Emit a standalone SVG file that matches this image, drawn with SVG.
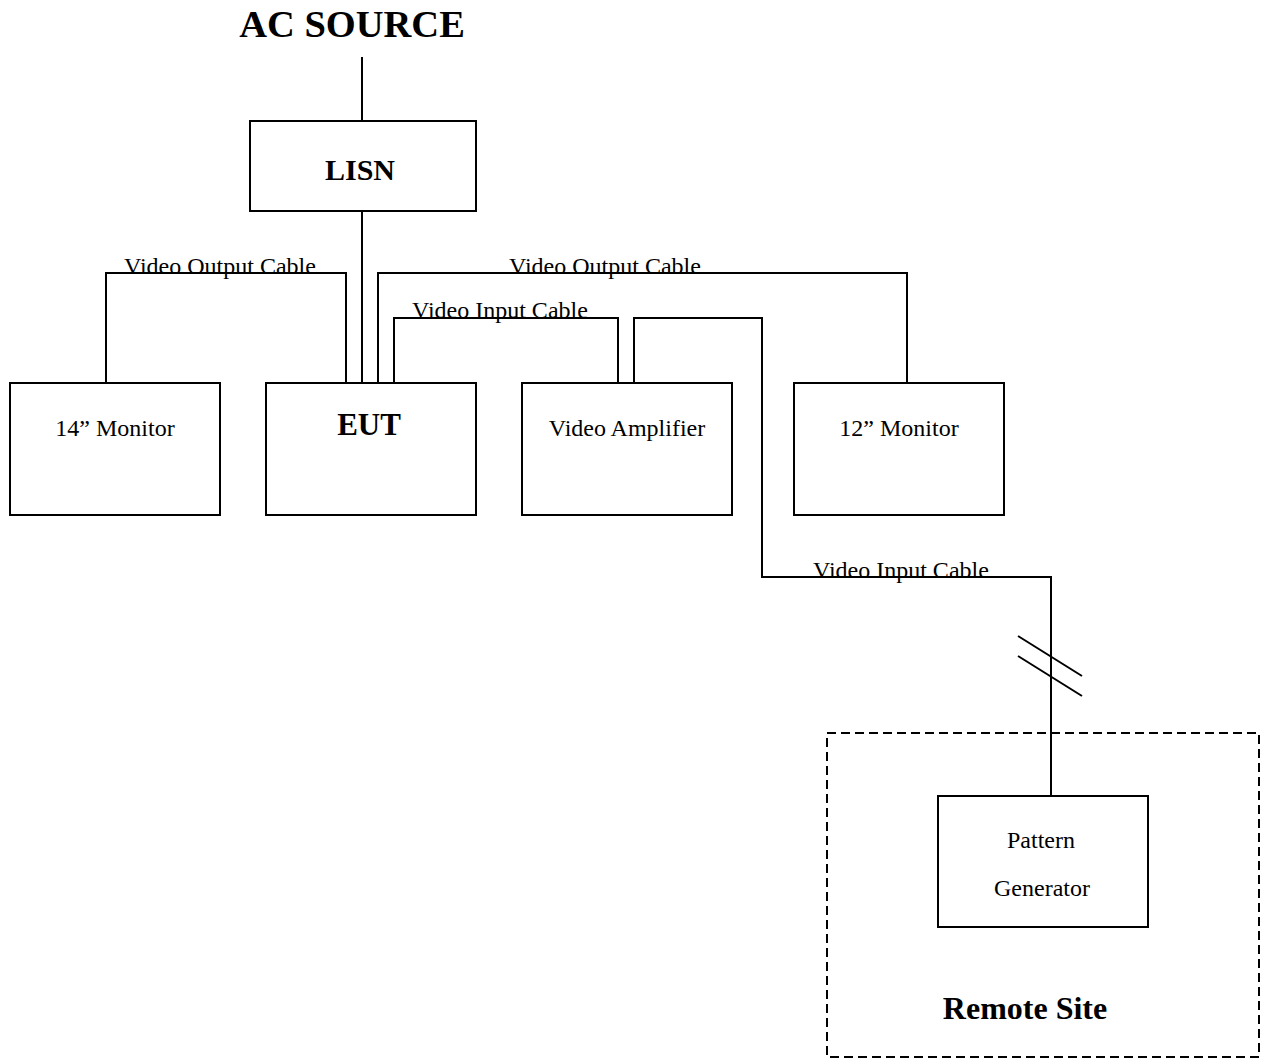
<svg xmlns="http://www.w3.org/2000/svg" width="1268" height="1059" viewBox="0 0 1268 1059">
<style>
.box{fill:#fff;stroke:#000;stroke-width:2}
.w{fill:none;stroke:#000;stroke-width:2}
.t{font-family:"Liberation Serif","Times New Roman",serif;fill:#000}
.b{font-weight:bold}
.lbl{font-size:24px}
</style>
<rect width="1268" height="1059" fill="#fff"/>
<g id="connectors">
<path class="w" d="M362 57V121"/>
<path class="w" d="M362 211V383"/>
<path class="w" d="M106 383V273H346V383"/>
<path class="w" d="M378 383V273H907V383"/>
<path class="w" d="M394 383V318H618V383"/>
<path class="w" d="M634 383V318H762V577H1051V796"/>
<path class="w" d="M1018 636L1082 676M1018 656L1082 696"/>
</g>
<g id="remote-site">
<rect x="827" y="733" width="432" height="324" fill="none" stroke="#000" stroke-width="2" stroke-dasharray="9,5"/>
<text class="t b" x="1025" y="1019" font-size="32" text-anchor="middle">Remote Site</text>
</g>
<g id="ac-source"><text class="t b" x="352" y="37" font-size="38.5" text-anchor="middle">AC SOURCE</text></g>
<g id="lisn"><rect class="box" x="250" y="121" width="226" height="90"/><text class="t b" x="360" y="180" font-size="30" text-anchor="middle">LISN</text></g>
<g id="monitor14"><rect class="box" x="10" y="383" width="210" height="132"/><text class="t lbl" x="115" y="436" text-anchor="middle">14” Monitor</text></g>
<g id="eut"><rect class="box" x="266" y="383" width="210" height="132"/><text class="t b" x="369" y="435" font-size="31" text-anchor="middle">EUT</text></g>
<g id="video-amplifier"><rect class="box" x="522" y="383" width="210" height="132"/><text class="t lbl" x="627" y="436" text-anchor="middle">Video Amplifier</text></g>
<g id="monitor12"><rect class="box" x="794" y="383" width="210" height="132"/><text class="t lbl" x="899" y="436" text-anchor="middle">12” Monitor</text></g>
<g id="pattern-generator"><rect class="box" x="938" y="796" width="210" height="131"/><text class="t lbl" x="1041" y="848" text-anchor="middle">Pattern</text><text class="t lbl" x="1042" y="896" text-anchor="middle">Generator</text></g>
<g id="labels">
<text class="t lbl" x="124" y="274">Video Output Cable</text>
<text class="t lbl" x="509" y="274">Video Output Cable</text>
<text class="t lbl" x="412" y="318">Video Input Cable</text>
<text class="t lbl" x="813" y="578">Video Input Cable</text>
</g>
</svg>
